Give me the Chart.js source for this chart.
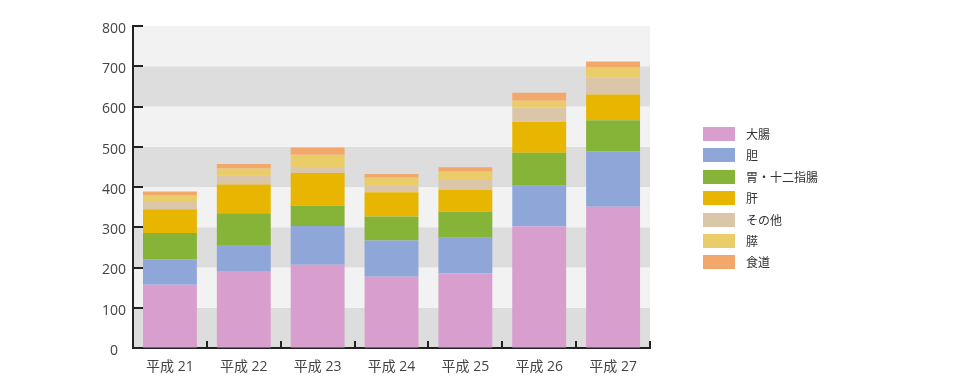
<!DOCTYPE html>
<html>
<head>
<meta charset="utf-8">
<script src="https://cdn.jsdelivr.net/npm/chart.js@4/dist/chart.umd.min.js"></script>
<style>
  html, body { margin: 0; padding: 0; background: #ffffff; }
  #wrap { position: relative; width: 962px; height: 384px; }
  #c { position: absolute; left: 0; top: 0; }
  #legend { position: absolute; left: 703px; top: 127px; font-family: 'Noto Sans CJK JP', sans-serif; font-size: 12px; color: #333; }
  .item { position: absolute; left: 0; height: 14px; white-space: nowrap; }
  .box { position: absolute; left: 0; top: 0; width: 32px; height: 14px; }
  .lbl { position: absolute; left: 43px; top: -1px; line-height: 16px; }
</style>
</head>
<body>
<div id="wrap">
  <canvas id="c" width="962" height="384"></canvas>
  <div id="legend"></div>
</div>
<script>
// Categories (x axis)
const categories = ['平成 21', '平成 22', '平成 23', '平成 24', '平成 25', '平成 26', '平成 27'];
// Series (bottom to top)
const seriesNames = ['大腸', '胆', '胃・十二指腸', '肝', 'その他', '膵', '食道'];
const daicho   = [157, 191, 207, 177, 186, 302, 351];
const tan      = [63, 65, 96, 90, 88, 101, 137];
const i12      = [66, 79, 51, 60, 65, 82, 78];
const kan      = [59, 71, 81, 60, 54, 77, 64];
const sonota   = [20, 23, 15, 16, 27, 36, 42];
const sui      = [15, 17, 30, 20, 18, 16, 25];
const shokudo  = [9, 11, 18, 9, 11, 20, 15];
const seriesColors = ['#d89ece', '#8fa7d8', '#86b438', '#e8b600', '#dcc6aa', '#eacd68', '#f3a86b'];
// Y axis ticks
const yTicks = [0, 100, 200, 300, 400, 500, 600, 700, 800];

const seriesValues = [daicho, tan, i12, kan, sonota, sui, shokudo];

const bandsPlugin = {
  id: 'bands',
  beforeDraw(chart) {
    const {ctx, chartArea} = chart;
    const y = chart.scales.y;
    ctx.save();
    for (let i = 0; i < yTicks.length - 1; i++) {
      const top = y.getPixelForValue(yTicks[i + 1]);
      const bot = y.getPixelForValue(yTicks[i]);
      ctx.fillStyle = (i % 2 === 0) ? '#dddddd' : '#f2f2f2';
      ctx.fillRect(chartArea.left, top, chartArea.right - chartArea.left, bot - top);
    }
    ctx.restore();
  },
  afterDatasetsDraw(chart) {
    const {ctx, chartArea} = chart;
    const y = chart.scales.y, x = chart.scales.x;
    ctx.save();
    ctx.strokeStyle = '#222';
    ctx.lineWidth = 2;
    ctx.beginPath();
    yTicks.forEach(v => {
      const py = Math.round(y.getPixelForValue(v));
      ctx.moveTo(chartArea.left, py);
      ctx.lineTo(chartArea.left + 10, py);
    });
    for (let i = 0; i < categories.length; i++) {
      let px;
      if (i < categories.length - 1) px = (x.getPixelForValue(i) + x.getPixelForValue(i + 1)) / 2;
      else px = chartArea.right;
      px = Math.round(px);
      ctx.moveTo(px, chartArea.bottom);
      ctx.lineTo(px, chartArea.bottom - 7);
    }
    ctx.stroke();
    ctx.restore();
  }
};

const datasets = seriesNames.map((name, i) => ({
  label: name,
  data: seriesValues[i],
  backgroundColor: seriesColors[i],
  borderWidth: 0,
  barPercentage: 0.73,
  categoryPercentage: 1.0
}));

const fontFam = "'Open Sans', 'Noto Sans CJK JP', sans-serif";

new Chart(document.getElementById('c'), {
  type: 'bar',
  data: { labels: categories, datasets },
  plugins: [bandsPlugin],
  options: {
    responsive: false,
    animation: false,
    devicePixelRatio: 1,
    layout: { padding: { top: 26, right: 312, left: 0, bottom: 0 } },
    plugins: { legend: { display: false }, tooltip: { enabled: false } },
    scales: {
      x: {
        stacked: true,
        grid: { display: true, drawOnChartArea: false, drawTicks: false },
        border: { display: true, color: '#222', width: 2 },
        ticks: { color: '#444', padding: 11, font: { family: fontFam, size: 14 } },
        afterFit(scale) { scale.height = 36; }
      },
      y: {
        stacked: true,
        min: 0, max: 800,
        grid: { display: true, drawOnChartArea: false, drawTicks: false },
        border: { display: true, color: '#222', width: 2 },
        ticks: { stepSize: 100, color: '#444', padding: 7, labelOffset: 3, crossAlign: 'center', font: { family: fontFam, size: 14 } },
        afterFit(scale) { scale.width = 133; }
      }
    }
  }
});

// HTML legend
const leg = document.getElementById('legend');
seriesNames.forEach((name, i) => {
  const item = document.createElement('div');
  item.className = 'item';
  item.style.top = (i * 21.4) + 'px';
  const b = document.createElement('div');
  b.className = 'box';
  b.style.background = seriesColors[i];
  const t = document.createElement('span');
  t.className = 'lbl';
  t.textContent = name;
  item.appendChild(b);
  item.appendChild(t);
  leg.appendChild(item);
});
</script>
</body>
</html>
